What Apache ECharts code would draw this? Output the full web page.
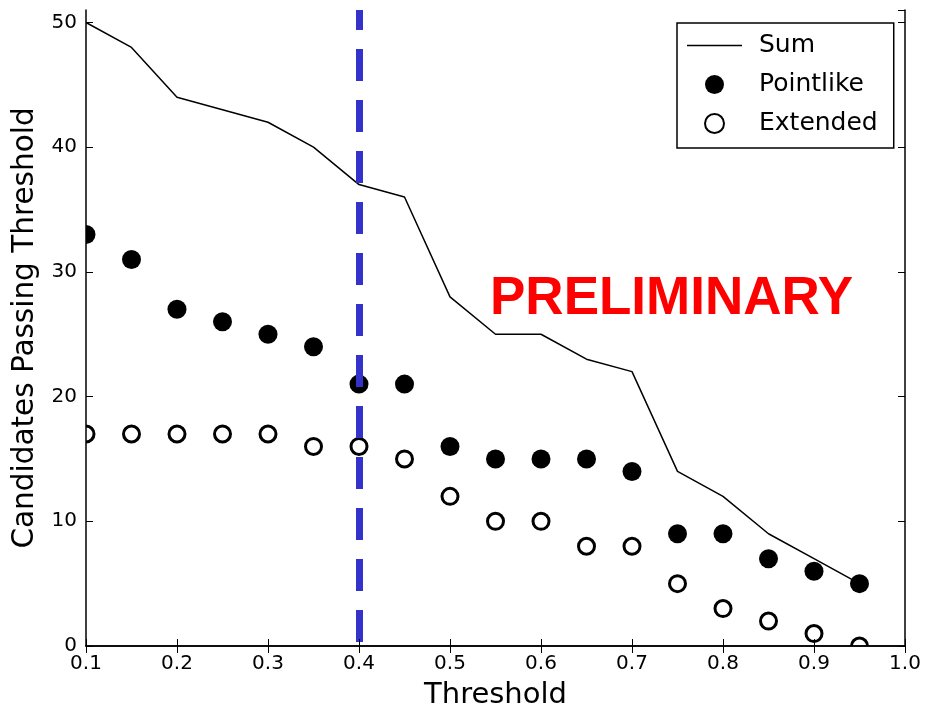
<!DOCTYPE html>
<html>
<head>
<meta charset="utf-8">
<script src="https://cdn.jsdelivr.net/npm/echarts@6/dist/echarts.min.js"></script>
<style>
  html, body { margin: 0; padding: 0; background: #fff; }
  #chart { width: 925px; height: 709px; }
</style>
</head>
<body>
<div id="chart"></div>
<script>
// Threshold scan: number of candidates passing each cut
const thresholds = [0.1, 0.15, 0.2, 0.25, 0.3, 0.35, 0.4, 0.45, 0.5, 0.55, 0.6, 0.65, 0.7, 0.75, 0.8, 0.85, 0.9, 0.95];
const pointlike  = [33, 31, 27, 26, 25, 24, 21, 21, 16, 15, 15, 15, 14, 9, 9, 7, 6, 5];
const extended   = [17, 17, 17, 17, 17, 16, 16, 15, 12, 10, 10, 8, 8, 5, 3, 2, 1, 0];
const sumCounts  = [50, 48, 44, 43, 42, 40, 37, 36, 28, 25, 25, 23, 22, 14, 12, 9, 7, 5];
const chosenCut  = 0.4;
const xTicks = [0.1, 0.2, 0.3, 0.4, 0.5, 0.6, 0.7, 0.8, 0.9, 1.0];
const yTicks = [0, 10, 20, 30, 40, 50];

const font = 'DejaVu Sans';
const W = 925, H = 709;
const plot = { left: 86, right: 20, top: 10, bottom: 63 };

const chart = echarts.init(document.getElementById('chart'), null, { renderer: 'canvas' });

const pairs = (xs, ys) => xs.map((x, i) => [x, ys[i]]);
const xFmt = v => {
  const hit = xTicks.find(t => Math.abs(t - v) < 1e-6);
  return hit === undefined ? '' : hit.toFixed(1);
};
const yFmt = v => (yTicks.indexOf(v) >= 0 ? String(v) : '');

const baseAxis = {
  z: 10,
  axisLine: { show: true, lineStyle: { color: '#000', width: 1.5 } },
  axisTick: { show: true, inside: true, length: 7, lineStyle: { color: '#000', width: 1 } },
  splitLine: { show: false }
};

// white masks outside the plotting area so markers sitting on the frame are cut at its edge
const masks = [
  { type: 'rect', z: 5, silent: true, shape: { x: 0, y: 0, width: plot.left, height: H }, style: { fill: '#fff' } },
  { type: 'rect', z: 5, silent: true, shape: { x: 0, y: H - plot.bottom, width: W, height: plot.bottom }, style: { fill: '#fff' } }
];

chart.setOption({
  animation: false,
  backgroundColor: '#fff',
  grid: { left: plot.left, right: plot.right, top: plot.top, bottom: plot.bottom, containLabel: false, outerBoundsMode: 'none' },
  xAxis: [
    Object.assign({}, baseAxis, {
      type: 'value', min: 0.1, max: 1.0, interval: 0.1, position: 'bottom',
      name: 'Threshold', nameLocation: 'middle', nameGap: 35,
      nameTextStyle: { fontFamily: font, fontSize: 29, color: '#000' },
      axisLabel: { formatter: xFmt, fontFamily: font, fontSize: 20, color: '#000', margin: 8 }
    }),
    Object.assign({}, baseAxis, {
      type: 'value', min: 0.1, max: 1.0, interval: 0.1, position: 'top',
      axisLabel: { show: false }
    })
  ],
  yAxis: [
    Object.assign({}, baseAxis, {
      type: 'value', min: 0, max: 51, interval: 10, position: 'left',
      name: 'Candidates Passing Threshold', nameLocation: 'middle', nameGap: 45, nameRotate: 90,
      nameTextStyle: { fontFamily: font, fontSize: 29.5, color: '#000' },
      axisLabel: { formatter: yFmt, fontFamily: font, fontSize: 20, color: '#000', margin: 9, showMaxLabel: false }
    }),
    Object.assign({}, baseAxis, {
      type: 'value', min: 0, max: 51, interval: 10, position: 'right',
      axisLabel: { show: false }
    })
  ],
  legend: {
    left: 677, top: 23, orient: 'vertical', z: 20,
    backgroundColor: '#fff', borderColor: '#000', borderWidth: 1.5, borderRadius: 0,
    padding: [10, 16, 12, 10],
    itemWidth: 55, itemHeight: 19, itemGap: 14,
    textStyle: { fontFamily: font, fontSize: 25, color: '#000', padding: [0, 0, 0, 12] },
    data: [
      { name: 'Sum', icon: 'path://M0,0L55,0L55,1.5L0,1.5Z', itemStyle: { color: '#000' } },
      { name: 'Pointlike' },
      { name: 'Extended' }
    ]
  },
  graphic: masks.concat([{
    type: 'text', left: 490, top: 273, z: 6,
    style: { text: 'PRELIMINARY', fill: '#ff0000', font: 'bold 53px "Liberation Sans", Arial, sans-serif' }
  }]),
  series: [
    {
      name: 'Sum', type: 'line', data: pairs(thresholds, sumCounts),
      symbol: 'none', lineStyle: { color: '#000', width: 1.5 }, itemStyle: { color: '#000' }, z: 2
    },
    {
      name: 'Pointlike', type: 'scatter', data: pairs(thresholds, pointlike),
      symbol: 'circle', symbolSize: 19, itemStyle: { color: '#000', opacity: 1 }, z: 3
    },
    {
      name: 'Extended', type: 'scatter', data: pairs(thresholds, extended),
      symbol: 'circle', symbolSize: 16,
      itemStyle: { color: '#fff', borderColor: '#000', borderWidth: 3, opacity: 1 }, z: 3,
      markLine: {
        silent: true, symbol: 'none', label: { show: false }, z: 4,
        lineStyle: { color: '#3333cc', width: 7, type: [32, 19], dashOffset: 47, opacity: 1 },
        data: [{ xAxis: chosenCut }]
      }
    }
  ]
});
</script>
</body>
</html>
